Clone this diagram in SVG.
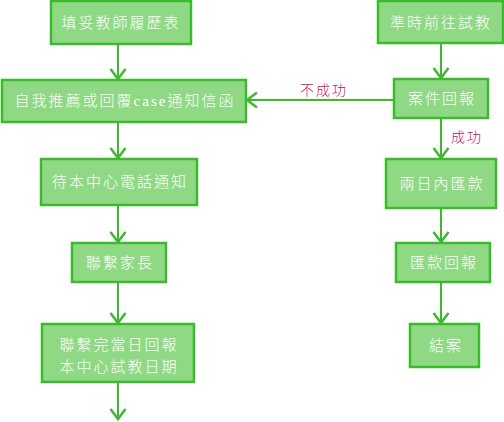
<svg xmlns="http://www.w3.org/2000/svg" width="504" height="422" viewBox="0 0 504 422">
<defs>
<style>
.box{fill:#8fd985;stroke:#3cba2e;stroke-width:2.5}
.t{font-family:"Liberation Serif","Noto Sans CJK TC",serif;font-size:15px;font-weight:300;letter-spacing:2px;fill:#ffffff;text-anchor:middle}
.c{stroke:#3cba2e;stroke-width:2;fill:none}
.lbl{font-family:"Liberation Serif","Noto Sans CJK TC",serif;font-size:14px;font-weight:300;letter-spacing:2px;fill:#c8105a;text-anchor:middle}
</style>
<marker id="ah" markerUnits="userSpaceOnUse" viewBox="-12 -10 14 20" refX="0" refY="0" markerWidth="14" markerHeight="20" orient="auto">
<path d="M-10,-7.5 L0,0 L-10,7.5" fill="none" stroke="#3cba2e" stroke-width="2.5"/>
</marker>
</defs>
<g id="connectors">
<line class="c" x1="118" y1="44" x2="118" y2="79" marker-end="url(#ah)"/>
<line class="c" x1="118" y1="122" x2="118" y2="158" marker-end="url(#ah)"/>
<line class="c" x1="118" y1="205" x2="118" y2="242" marker-end="url(#ah)"/>
<line class="c" x1="118" y1="282" x2="118" y2="323" marker-end="url(#ah)"/>
<line class="c" x1="118" y1="382" x2="118" y2="419" marker-end="url(#ah)"/>
<line class="c" x1="441" y1="43" x2="441" y2="78" marker-end="url(#ah)"/>
<line class="c" x1="394" y1="100" x2="247" y2="100" marker-end="url(#ah)"/>
<line class="c" x1="441" y1="118" x2="441" y2="158" marker-end="url(#ah)"/>
<line class="c" x1="441" y1="208" x2="441" y2="242" marker-end="url(#ah)"/>
<line class="c" x1="441" y1="282" x2="441" y2="323" marker-end="url(#ah)"/>
<text class="lbl" x="324" y="95">不成功</text>
<text class="lbl" x="467" y="142">成功</text>
</g>
<g id="n1"><rect class="box" x="51" y="1" width="140" height="43"/><text class="t" x="121" y="28">填妥教師履歷表</text></g>
<g id="n2"><rect class="box" x="2" y="80" width="244" height="42"/><text class="t" x="125" y="106">自我推薦或回覆case通知信函</text></g>
<g id="n3"><rect class="box" x="41" y="159" width="156" height="46"/><text class="t" x="120" y="187">待本中心電話通知</text></g>
<g id="n4"><rect class="box" x="72" y="243" width="94" height="39"/><text class="t" x="120" y="268">聯繫家長</text></g>
<g id="n5"><rect class="box" x="42" y="324" width="152" height="58"/><text class="t" x="119" y="350">聯繫完當日回報</text><text class="t" x="119" y="372">本中心試教日期</text></g>
<g id="n6"><rect class="box" x="378" y="1" width="125" height="42"/><text class="t" x="441" y="28">準時前往試教</text></g>
<g id="n7"><rect class="box" x="394" y="79" width="94" height="39"/><text class="t" x="442" y="104">案件回報</text></g>
<g id="n8"><rect class="box" x="386" y="159" width="110" height="49"/><text class="t" x="442" y="189">兩日內匯款</text></g>
<g id="n9"><rect class="box" x="396" y="243" width="94" height="39"/><text class="t" x="444" y="268">匯款回報</text></g>
<g id="n10"><rect class="box" x="410" y="324" width="69" height="43"/><text class="t" x="446" y="351">結案</text></g>
</svg>
